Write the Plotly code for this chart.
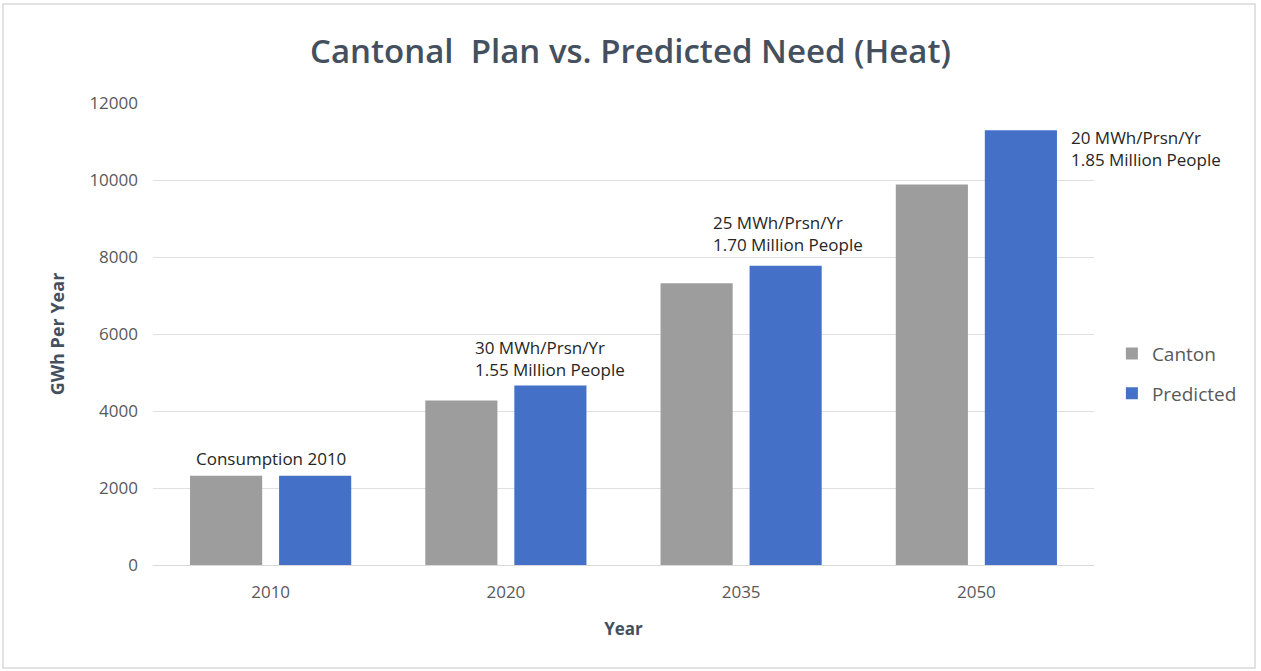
import plotly.graph_objects as go

# Annual heat demand, GWh per year
years = ["2010", "2020", "2035", "2050"]
canton = [2320, 4270, 7320, 9880]
predicted = [2320, 4660, 7770, 11290]

y_ticks = [0, 2000, 4000, 6000, 8000, 10000, 12000]
y_tick_text = [str(v) for v in y_ticks]

W, H = 1261, 671
ML, MR, MT, MB = 153, 167, 103, 106

fig = go.Figure()
fig.add_trace(go.Bar(name="Canton", x=years, y=canton, legendgroup="c",
                     marker=dict(color="#9d9d9d", line=dict(width=0))))
fig.add_trace(go.Bar(name="Predicted", x=years, y=predicted, legendgroup="p",
                     marker=dict(color="#4470c8", line=dict(width=0))))

note_font = dict(family="Open Sans, sans-serif", size=17, color="#262626")

# On a category axis, numeric-looking strings would be read as indices,
# so annotations are placed by category position instead.
def cat_pos(yr):
    return years.index(yr)

# Group label over 2010
fig.add_annotation(x=cat_pos("2010"), y=canton[0], text="Consumption 2010", showarrow=False,
                   xanchor="center", yanchor="bottom", yshift=4, font=note_font)
# Per-person notes over the predicted bars
notes = [
    ("2020", predicted[1], "30 MWh/Prsn/Yr<br>1.55 Million People", -33, 3, "bottom"),
    ("2035", predicted[2], "25 MWh/Prsn/Yr<br>1.70 Million People", -30, 8, "bottom"),
    ("2050", predicted[3], "20 MWh/Prsn/Yr<br>1.85 Million People", 93, 6, "top"),
]
for yr, val, txt, xs, ys, ya in notes:
    fig.add_annotation(x=cat_pos(yr), y=val, text=txt, showarrow=False, xanchor="left", align="left",
                       yanchor=ya, xshift=xs, yshift=ys, font=note_font)

pw, ph = W - ML - MR, H - MT - MB
fig.add_shape(type="rect", xref="paper", yref="paper",
              x0=(-ML + 3) / pw, x1=(W - ML - 6) / pw,
              y0=-(MB - 3) / ph, y1=(H - MB - 4) / ph,
              line=dict(color="#d9d9d9", width=1.5), fillcolor="rgba(0,0,0,0)", layer="below")

fig.update_layout(
    width=W, height=H,
    margin=dict(l=ML, r=MR, t=MT, b=MB),
    paper_bgcolor="white", plot_bgcolor="white",
    barmode="group", bargap=0.243, bargroupgap=0.19,
    title=dict(text="Cantonal  Plan vs. Predicted Need (Heat)", x=0.5, xanchor="center",
               y=1 - 51 / H, yanchor="middle",
               font=dict(family="Open Sans, sans-serif", size=33, color="#44505e", weight=600)),
    font=dict(family="Open Sans, sans-serif", color="#595959"),
    legend=dict(x=1.019, y=0.414, xanchor="left", yanchor="middle",
                font=dict(size=19, color="#595959"), itemsizing="constant",
                traceorder="grouped", tracegroupgap=12, bgcolor="rgba(0,0,0,0)"),
    xaxis=dict(type="category", range=[-0.5, len(years) - 0.5],
               title=dict(text="Year", font=dict(size=17, color="#44505e", weight=700), standoff=20),
               tickfont=dict(size=17, color="#595959"), showline=True, linecolor="#d9d9d9",
               ticks="", showgrid=False, ticklabelstandoff=12),
    yaxis=dict(title=dict(text="GWh Per Year", font=dict(size=18, color="#44505e", weight=700), standoff=20),
               range=[0, 12000], tickvals=y_ticks, ticktext=y_tick_text,
               tickfont=dict(size=17, color="#595959"), ticklabelstandoff=14,
               gridcolor="#e0e0e0", gridwidth=1, zeroline=False, ticks="", ticklen=0),
)

fig.write_html("out.html")
